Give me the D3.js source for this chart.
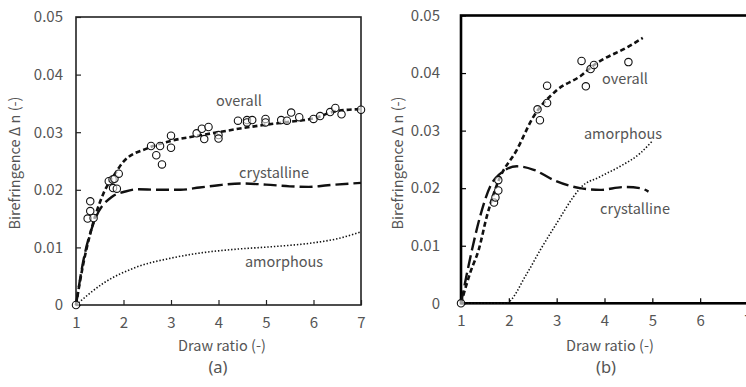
<!DOCTYPE html>
<html>
<head>
<meta charset="utf-8">
<script src="https://cdn.jsdelivr.net/npm/d3@7"></script>
<style>
  html, body { margin: 0; padding: 0; background: #fff; }
  svg { display: block; }
  text { font-family: "Noto Sans CJK JP", "Noto Sans", sans-serif; fill: #555; }
</style>
</head>
<body>
<svg id="chart" width="746" height="387"></svg>
<script>
// Axis ticks
const xTicks = [1, 2, 3, 4, 5, 6, 7];
const yTicks = [0, 0.01, 0.02, 0.03, 0.04, 0.05];

// Panel (a): measured overall birefringence vs draw ratio
const aPointsX = [1, 1.245, 1.30, 1.30, 1.37, 1.69, 1.77, 1.81, 1.78, 1.86, 1.90,
  2.58, 2.69, 2.77, 2.81, 3.00, 3.00, 3.54, 3.65, 3.70, 3.79, 4.00, 4.00,
  4.41, 4.60, 4.60, 4.71, 4.99, 4.99, 5.32, 5.44, 5.53, 5.70, 6.00, 6.14,
  6.35, 6.46, 6.59, 7.00];
const aPointsY = [0, 0.0150, 0.0180, 0.0163, 0.0151, 0.0215, 0.0218, 0.0219, 0.0203, 0.0202, 0.0228,
  0.0276, 0.0260, 0.0276, 0.0244, 0.0294, 0.0273, 0.0298, 0.0306, 0.0288, 0.0309, 0.0295, 0.0289,
  0.0320, 0.0321, 0.0317, 0.0321, 0.0323, 0.0317, 0.0321, 0.0320, 0.0334, 0.0326, 0.0323, 0.0328,
  0.0335, 0.0342, 0.0331, 0.0339];

// Panel (a): fitted curves
const aOverallX = [1, 1.15, 1.3, 1.58, 1.83, 2, 2.5, 3, 3.5, 4, 4.5, 5, 5.5, 6, 6.5, 7];
const aOverallY = [0, 0.0070, 0.0124, 0.0194, 0.0229, 0.0249, 0.0272, 0.0285, 0.0293, 0.0300, 0.0307, 0.0313, 0.0318, 0.0324, 0.0337, 0.0340];
const aCrystX = [1, 1.15, 1.37, 1.76, 2.04, 2.3, 2.7, 3.2, 3.6, 4, 4.5, 5, 5.5, 5.9, 6.3, 7];
const aCrystY = [0, 0.0075, 0.0142, 0.0188, 0.0197, 0.0201, 0.0200, 0.0200, 0.0204, 0.0208, 0.0211, 0.0209, 0.0206, 0.0205, 0.0208, 0.0212];
const aAmorX = [1, 1.58, 2.28, 2.98, 3.68, 4.39, 5.09, 6, 6.5, 7];
const aAmorY = [0, 0.0038, 0.0066, 0.0081, 0.0091, 0.0097, 0.0101, 0.0108, 0.0115, 0.0127];

// Panel (b): measured overall birefringence vs draw ratio
const bPointsX = [1, 1.69, 1.72, 1.78, 1.78, 2.60, 2.65, 2.80, 2.80, 3.52, 3.61, 3.71, 3.78, 4.50];
const bPointsY = [0, 0.0175, 0.0184, 0.0196, 0.0214, 0.0337, 0.0318, 0.0378, 0.0348, 0.0421, 0.0377, 0.0407, 0.0414, 0.0419];

// Panel (b): fitted curves
const bOverallX = [1, 1.2, 1.37, 1.54, 1.79, 2.17, 2.5, 3, 3.5, 3.78, 4.5, 4.8];
const bOverallY = [0, 0.0055, 0.0093, 0.0151, 0.0214, 0.0267, 0.0322, 0.0370, 0.0395, 0.0414, 0.0446, 0.0461];
const bCrystX = [1, 1.23, 1.40, 1.61, 1.79, 2.17, 2.52, 2.94, 3.49, 3.91, 4.40, 4.75, 4.92];
const bCrystY = [0, 0.0093, 0.0151, 0.0203, 0.0223, 0.0238, 0.0232, 0.0214, 0.0200, 0.0197, 0.0202, 0.0200, 0.0194];
const bAmorX = [1, 1.5, 1.93, 2.38, 2.66, 3.0, 3.35, 3.49, 3.91, 4.33, 4.75, 4.99];
const bAmorY = [0, 0, 0, 0.0052, 0.0093, 0.0139, 0.0185, 0.0200, 0.0220, 0.0238, 0.0261, 0.0281];

const svg = d3.select("#chart");
const zip = (xs, ys) => xs.map((x, i) => [x, ys[i]]);
const yFmt = d => d === 0 ? "0" : d3.format(".2f")(d);

function panel(cfg) {
  const x = d3.scaleLinear().domain([1, 7]).range([cfg.left, cfg.right]);
  const y = d3.scaleLinear().domain([0, 0.05]).range([cfg.bottom, cfg.top]);
  const g = svg.append("g");

  // Frame
  g.append("rect")
    .attr("x", cfg.left).attr("y", cfg.top)
    .attr("width", cfg.right - cfg.left).attr("height", cfg.bottom - cfg.top)
    .attr("fill", "none").attr("stroke", cfg.frameColor).attr("stroke-width", cfg.frameWidth);

  // Axes with inward ticks
  const xa = g.append("g").attr("transform", `translate(0,${cfg.bottom})`)
    .call(d3.axisBottom(x).tickValues(xTicks).tickFormat(d3.format("d")).tickSize(-5).tickPadding(12));
  const ya = g.append("g").attr("transform", `translate(${cfg.left},0)`)
    .call(d3.axisLeft(y).tickValues(yTicks).tickFormat(yFmt).tickSize(-5).tickPadding(cfg.yPad));
  [xa, ya].forEach(a => {
    a.select(".domain").remove();
    a.selectAll(".tick line").attr("stroke", cfg.frameColor).attr("stroke-width", 1.2);
    a.selectAll(".tick text").attr("font-size", 15).attr("fill", "#555")
      .style("font-family", '"Noto Sans CJK JP", "Noto Sans", sans-serif');
  });

  const line = d3.line().x(d => x(d[0])).y(d => y(d[1])).curve(d3.curveMonotoneX);

  g.append("path").datum(zip(cfg.amorX, cfg.amorY)).attr("d", line)
    .attr("fill", "none").attr("stroke", "#111").attr("stroke-width", 1.6)
    .attr("stroke-dasharray", "1.4,1.9");
  g.append("path").datum(zip(cfg.crystX, cfg.crystY)).attr("d", line)
    .attr("fill", "none").attr("stroke", "#111").attr("stroke-width", 2.4)
    .attr("stroke-dasharray", "13,5");
  g.append("path").datum(zip(cfg.overallX, cfg.overallY)).attr("d", line)
    .attr("fill", "none").attr("stroke", "#111").attr("stroke-width", 2.6)
    .attr("stroke-dasharray", "5,3");

  g.selectAll("circle.pt").data(zip(cfg.ptX, cfg.ptY)).join("circle")
    .attr("class", "pt")
    .attr("cx", d => x(d[0])).attr("cy", d => y(d[1])).attr("r", 3.7)
    .attr("fill", "#fff").attr("fill-opacity", 0.6)
    .attr("stroke", "#111").attr("stroke-width", 1.1);

  // Curve labels
  cfg.labels.forEach(l => {
    g.append("text").attr("x", l[1]).attr("y", l[2]).attr("text-anchor", "middle")
      .attr("font-size", 14.5).text(l[0]);
  });

  // Axis titles and panel tag
  g.append("text").attr("x", cfg.xTitleX).attr("y", 351).attr("text-anchor", "middle")
    .attr("font-size", 14.5).text("Draw ratio (-)");
  g.append("text")
    .attr("transform", `translate(${cfg.yTitleX},${cfg.yTitleY}) rotate(-90)`)
    .attr("text-anchor", "middle").attr("font-size", 14.5).text("Birefringence  Δ n (-)");
  g.append("text").attr("x", cfg.xTitleX - 4).attr("y", 373).attr("text-anchor", "middle")
    .style("font-family", '"Noto Sans", sans-serif')
    .attr("font-size", 16.5).text(cfg.tag);
}

panel({
  left: 76, right: 361, top: 17, bottom: 305,
  frameColor: "#222", frameWidth: 1.6, yPad: 13,
  ptX: aPointsX, ptY: aPointsY,
  overallX: aOverallX, overallY: aOverallY,
  crystX: aCrystX, crystY: aCrystY,
  amorX: aAmorX, amorY: aAmorY,
  labels: [["overall", 239, 106], ["crystalline", 274, 178], ["amorphous", 284, 267]],
  xTitleX: 222, yTitleX: 20, yTitleY: 163, tag: "(a)"
});

panel({
  left: 461, right: 748, top: 15.5, bottom: 303.3,
  frameColor: "#000", frameWidth: 2.6, yPad: 21,
  ptX: bPointsX, ptY: bPointsY,
  overallX: bOverallX, overallY: bOverallY,
  crystX: bCrystX, crystY: bCrystY,
  amorX: bAmorX, amorY: bAmorY,
  labels: [["overall", 625, 84], ["amorphous", 623, 139], ["crystalline", 635, 214]],
  xTitleX: 610, yTitleX: 403, yTitleY: 163, tag: "(b)"
});
</script>
</body>
</html>
